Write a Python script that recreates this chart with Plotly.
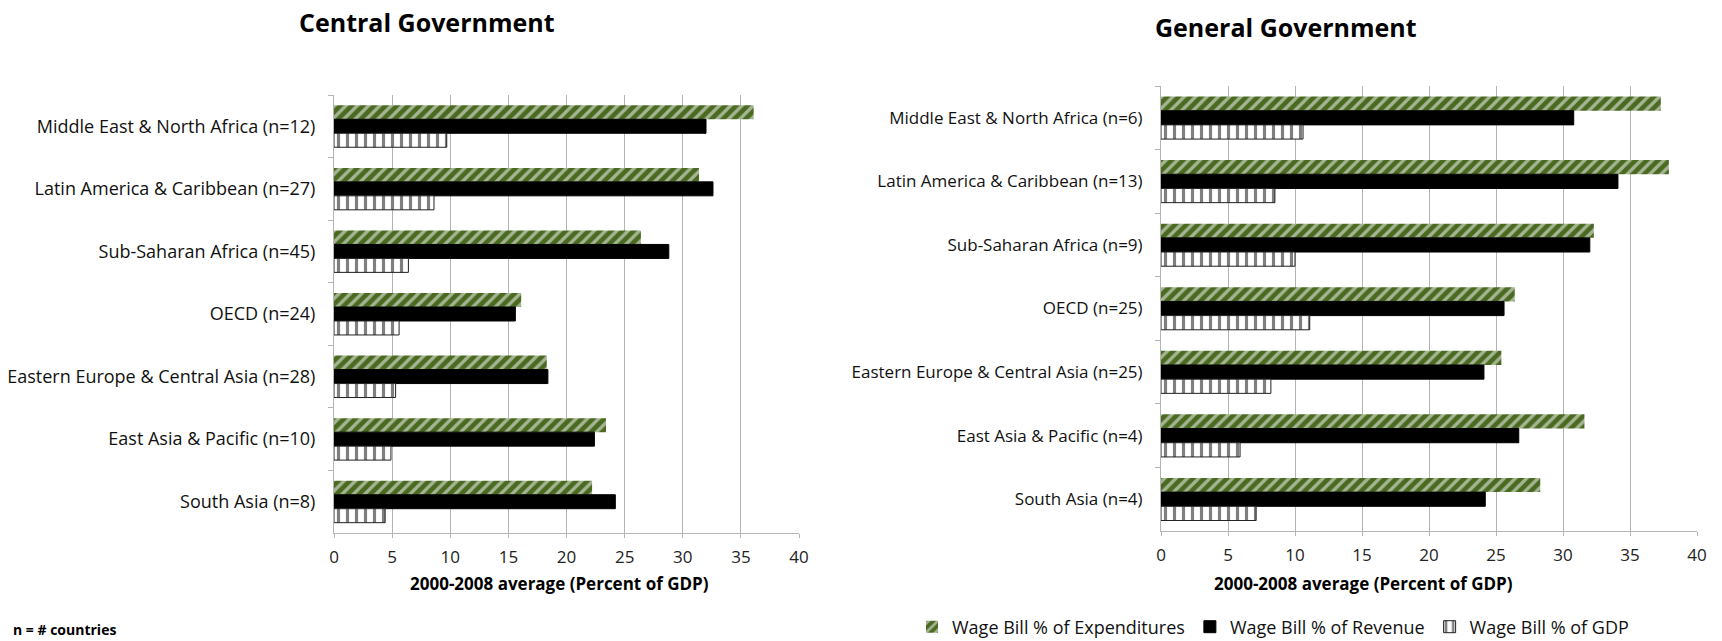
"""Wage bill by region: central vs general government (2000-2008 averages)."""

import plotly.graph_objects as go

# ---- data -------------------------------------------------------------
central_regions = [
    "Middle East & North Africa (n=12)",
    "Latin America & Caribbean (n=27)",
    "Sub-Saharan Africa (n=45)",
    "OECD (n=24)",
    "Eastern Europe & Central Asia (n=28)",
    "East Asia & Pacific (n=10)",
    "South Asia (n=8)",
]
central_exp = [36.1, 31.4, 26.4, 16.1, 18.3, 23.4, 22.2]
central_rev = [32.0, 32.6, 28.8, 15.6, 18.4, 22.4, 24.2]
central_gdp = [9.7, 8.6, 6.4, 5.6, 5.3, 4.9, 4.4]

general_regions = [
    "Middle East & North Africa (n=6)",
    "Latin America & Caribbean (n=13)",
    "Sub-Saharan Africa (n=9)",
    "OECD (n=25)",
    "Eastern Europe & Central Asia (n=25)",
    "East Asia & Pacific (n=4)",
    "South Asia (n=4)",
]
general_exp = [37.3, 37.9, 32.3, 26.4, 25.4, 31.6, 28.3]
general_rev = [30.8, 34.1, 32.0, 25.6, 24.1, 26.7, 24.2]
general_gdp = [10.6, 8.5, 10.0, 11.1, 8.2, 5.9, 7.1]

series_names = ["Wage Bill % of Expenditures", "Wage Bill % of Revenue", "Wage Bill % of GDP"]
x_ticks = [0, 5, 10, 15, 20, 25, 30, 35, 40]

# ---- styles -----------------------------------------------------------
FONT = "Open Sans"
GREEN = "#4a6a22"
GRID = "#b4b4b4"

styles = [
    # green diagonal stripes: white lines over a green base
    dict(color=GREEN, line=dict(color=GREEN, width=0),
         pattern=dict(shape="/", fgcolor="white", bgcolor=GREEN, size=8, solidity=0.42)),
    dict(color="black", line=dict(color="black", width=1)),
    dict(color="white", line=dict(color="#222222", width=1),
         pattern=dict(shape="|", fgcolor="black", bgcolor="white", size=9, solidity=0.35)),
]

W, H = 1722, 641

fig = go.Figure()

panels = [
    ("x", "y", central_regions, [central_exp, central_rev, central_gdp]),
    ("x2", "y2", general_regions, [general_exp, general_rev, general_gdp]),
]
for p, (xa, ya, regions, values) in enumerate(panels):
    for i, (name, vals) in enumerate(zip(series_names, values)):
        fig.add_trace(go.Bar(
            name=name,
            y=regions,
            x=vals,
            orientation="h",
            marker=styles[i],
            xaxis=xa,
            yaxis=ya,
            showlegend=(p == 1),
            legendrank=i,
        ))

xaxis_common = dict(
    range=[0, 40],
    tickvals=x_ticks,
    showgrid=True,
    gridcolor=GRID,
    gridwidth=1,
    zeroline=False,
    showline=True,
    linecolor=GRID,
    ticks="outside",
    ticklen=4,
    tickcolor=GRID,
    ticklabelstandoff=5,
    tickfont=dict(family=FONT, size=17, color="#222222"),
    automargin=False,
    fixedrange=True,
)
yaxis_common = dict(
    autorange="reversed",
    showline=True,
    linecolor=GRID,
    ticks="outside",
    tickson="boundaries",
    ticklen=5,
    tickcolor=GRID,
    showgrid=False,
    ticklabelstandoff=14,
    automargin=False,
    fixedrange=True,
)


def note(text, x, y, size, xanchor="center"):
    return dict(text=text, x=x / W, y=1 - y / H, xref="paper", yref="paper",
                showarrow=False, xanchor=xanchor, yanchor="middle",
                font=dict(family=FONT, size=size, color="black"))


fig.update_layout(
    width=W,
    height=H,
    margin=dict(l=0, r=0, t=0, b=0, autoexpand=False),
    paper_bgcolor="white",
    plot_bgcolor="white",
    barmode="group",
    bargap=0.33,
    bargroupgap=0.0,
    font=dict(family=FONT, color="#111111"),
    xaxis=dict(domain=[334 / W, 799 / W], anchor="y", **xaxis_common),
    yaxis=dict(domain=[1 - 533 / H, 1 - 95 / H], anchor="x",
               tickfont=dict(family=FONT, size=18, color="#111111"), **yaxis_common),
    xaxis2=dict(domain=[1161 / W, 1697 / W], anchor="y2", **xaxis_common),
    yaxis2=dict(domain=[1 - 531 / H, 1 - 86 / H], anchor="x2",
                tickfont=dict(family=FONT, size=17, color="#111111"), **yaxis_common),
    legend=dict(
        orientation="h",
        x=912 / W, xanchor="left",
        y=1 - 627 / H, yanchor="middle",
        font=dict(family=FONT, size=18, color="#111111"),
        tracegroupgap=0,
    ),
    annotations=[
        note("<b>Central Government</b>", 427, 22, 25),
        note("<b>General Government</b>", 1286, 27, 25),
        note("<b>2000-2008 average (Percent of GDP)</b>", 559, 583, 17),
        note("<b>2000-2008 average (Percent of GDP)</b>", 1363, 583, 17),
        note("<b>n = # countries</b>", 11, 629, 14, xanchor="left"),
    ],
)

fig.write_html(
    "out.html",
    config={"displayModeBar": False},
    post_script="document.body.style.margin='0';document.body.style.overflow='hidden';",
)
